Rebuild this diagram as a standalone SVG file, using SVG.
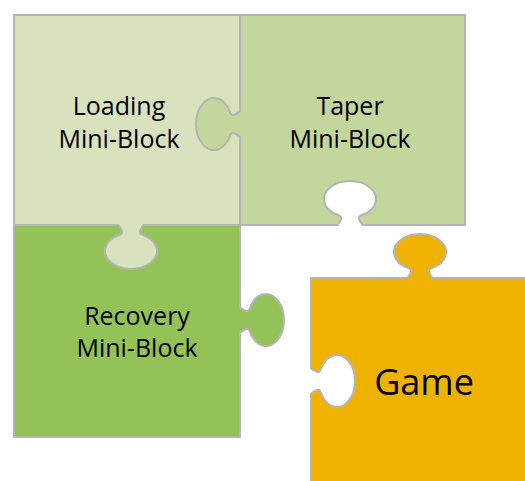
<svg xmlns="http://www.w3.org/2000/svg" width="525" height="481" viewBox="0 0 525 481">
<style>
.p{stroke:#b4b4b4;stroke-width:2;stroke-linejoin:round}
.t{font-family:"Open Sans","Noto Sans",sans-serif;font-size:25px;fill:#000;text-anchor:middle}
</style>
<rect width="525" height="481" fill="#fff"/>
<g id="recovery">
<path class="p" fill="#93c356" d="M14 225 H240 V307.5 C244 310 248 314 250 308 A18 26 0 1 1 250 332 C248 326 244 330 240 332.5 V437 H14 Z"/>
<text class="t" x="137" y="325">Recovery</text>
<text class="t" x="137" y="357">Mini-Block</text>
</g>
<g id="loading">
<path class="p" fill="#d8e3bd" d="M14 15 H240 V225 H143.5 C141 229 137 233 143 235 A26 18 0 1 1 119 235 C125 233 121 229 118.5 225 H14 Z"/>
<text class="t" x="119" y="115">Loading</text>
<text class="t" x="119" y="148">Mini-Block</text>
</g>
<g id="taper">
<path class="p" fill="#c3d69b" d="M240 15 H465 V225 H362.5 C360 221 356 217 362 215 A26 18 0 1 0 338 215 C344 217 340 221 337.5 225 H240 V136.5 C236 134 232 130 230 136 A18 26 0 1 1 230 112 C232 118 236 114 240 111.5 Z"/>
<text class="t" x="350" y="115">Taper</text>
<text class="t" x="350" y="148">Mini-Block</text>
</g>
<g id="game">
<path class="p" fill="#efb200" d="M311 278 H407.5 C410 274 414 270 408 268 A26 18 0 1 1 432 268 C426 270 430 274 432.5 278 H530 V485 H311 V393.5 C315 391 319 387 321 393 A18 26 0 1 0 321 369 C319 375 315 371 311 368.5 Z"/>
<text class="t" x="424" y="395" style="font-size:36px">Game</text>
</g>
</svg>
